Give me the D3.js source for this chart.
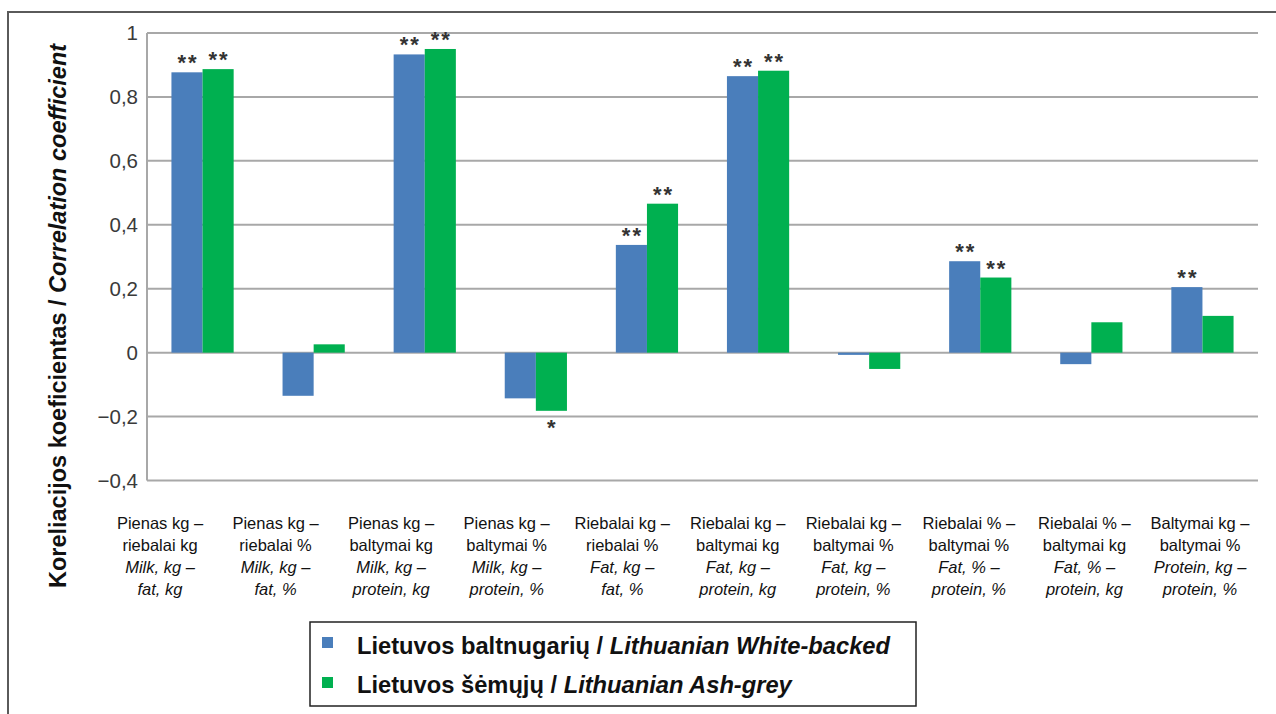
<!DOCTYPE html>
<html><head><meta charset="utf-8">
<script src="https://cdn.jsdelivr.net/npm/d3@7"></script>
<style>
html,body{margin:0;padding:0;background:#fff;}
svg{display:block;font-family:"Liberation Sans",Arial,sans-serif;}
</style></head>
<body>
<svg id="chart" width="1276" height="714"></svg>
<script>
// ---- data ----
const categories = ["c1","c2","c3","c4","c5","c6","c7","c8","c9","c10"];
const labelLT1 = ["Pienas kg –","Pienas kg –","Pienas kg –","Pienas kg –","Riebalai kg –","Riebalai kg –","Riebalai kg –","Riebalai % –","Riebalai % –","Baltymai kg –"];
const labelLT2 = ["riebalai kg","riebalai %","baltymai kg","baltymai %","riebalai %","baltymai kg","baltymai %","baltymai %","baltymai kg","baltymai %"];
const labelEN1 = ["Milk, kg –","Milk, kg –","Milk, kg –","Milk, kg –","Fat, kg –","Fat, kg –","Fat, kg –","Fat, % –","Fat, % –","Protein, kg –"];
const labelEN2 = ["fat, kg","fat, %","protein, kg","protein, %","fat, %","protein, kg","protein, %","protein, %","protein, kg","protein, %"];
const seriesNames = ["Lietuvos baltnugarių / ","Lietuvos šėmųjų / "];
const seriesNamesEN = ["Lithuanian White-backed","Lithuanian Ash-grey"];
const whiteBacked = [0.877, -0.135, 0.933, -0.143, 0.337, 0.865, -0.007, 0.286, -0.036, 0.205];
const ashGrey     = [0.887,  0.026, 0.950, -0.182, 0.466, 0.882, -0.051, 0.235,  0.095, 0.115];
const sigWhite = ["**","","**","","**","**","","**","","**"];
const sigAsh   = ["**","","**","*","**","**","","**","",""];
const yTicks = [-0.4,-0.2,0,0.2,0.4,0.6,0.8,1];
const yTitleLT = "Koreliacijos koeficientas / ";
const yTitleEN = "Correlation coefficient";

// ---- layout ----
const svg = d3.select("#chart");
const colors = ["#4a7ebb","#00b050"];
const plot = {left:147, right:1258, top:33, bottom:480.5};

// outer frame
svg.append("path").attr("d","M8,714 L8,12 L1276,12").attr("fill","none").attr("stroke","#5a5a5a").attr("stroke-width",2);

const x0 = d3.scaleBand().domain(categories).range([plot.left, plot.right]).paddingInner(0.44).paddingOuter(0.22);
const x1 = d3.scaleBand().domain([0,1]).range([0, x0.bandwidth()]).padding(0);
const y = d3.scaleLinear().domain([-0.4, 1]).range([plot.bottom, plot.top]);
const loc = d3.formatLocale({decimal:",", thousands:" ", grouping:[3], currency:["",""], minus:"\u2212"});
const fmt = loc.format(".1~f");

// gridlines
svg.append("g").selectAll("line").data(yTicks).join("line")
  .attr("x1", plot.left).attr("x2", plot.right)
  .attr("y1", d=>y(d)).attr("y2", d=>y(d))
  .attr("stroke","#a8a8a8").attr("stroke-width",2);
// left axis line
svg.append("line").attr("x1",plot.left).attr("x2",plot.left).attr("y1",y(1)).attr("y2",y(-0.4))
  .attr("stroke","#a8a8a8").attr("stroke-width",2);

// y axis via d3.axisLeft
const yAxis = svg.append("g").attr("transform",`translate(${plot.left - 9},0)`)
  .call(d3.axisLeft(y).tickValues(yTicks).tickFormat(fmt).tickSize(0).tickPadding(0));
yAxis.select(".domain").remove();
yAxis.selectAll("text").attr("font-size",20.5).attr("fill","#3a3a3a")
  .attr("font-family",'"Liberation Sans",Arial,sans-serif');

// bars
const series = [whiteBacked, ashGrey];
const sigs = [sigWhite, sigAsh];
const g = svg.append("g");
series.forEach((vals, si) => {
  g.selectAll(null).data(vals).join("rect")
    .attr("x", (d,i)=> x0(categories[i]) + x1(si))
    .attr("width", x1.bandwidth())
    .attr("y", d => y(Math.max(0,d)))
    .attr("height", d => Math.max(1, Math.abs(y(d)-y(0))))
    .attr("fill", colors[si]);
  g.selectAll(null).data(vals).join("text")
    .text((d,i)=> sigs[si][i])
    .attr("x", (d,i)=> x0(categories[i]) + x1(si) + x1.bandwidth()/2 + 1)
    .attr("y", d => d >= 0 ? y(d) - 2 : y(d) + 24)
    .attr("text-anchor","middle")
    .attr("font-size",22).attr("font-weight","bold")
    .attr("letter-spacing",2)
    .attr("fill","#333");
});

// category labels
const xl = d3.scalePoint().domain(categories).range([160, 1200]);
const lab = svg.append("g").attr("font-size",16.5).attr("fill","#111").attr("text-anchor","middle");
const lines = [[labelLT1,"normal"],[labelLT2,"normal"],[labelEN1,"italic"],[labelEN2,"italic"]];
lines.forEach(([arr, style], li) => {
  lab.selectAll(null).data(categories).join("text")
    .attr("x", d=>xl(d)).attr("y", 529 + li*22)
    .attr("font-style", style)
    .text((d,i)=>arr[i]);
});

// y title
const yt = svg.append("text")
  .attr("transform","translate(66,316) rotate(-90)")
  .attr("text-anchor","middle").attr("font-size",23.5).attr("font-weight","bold").attr("fill","#111");
yt.append("tspan").text(yTitleLT);
yt.append("tspan").attr("font-style","italic").text(yTitleEN);

// legend
const lg = svg.append("g");
lg.append("rect").attr("x",310).attr("y",622).attr("width",606).attr("height",84)
  .attr("fill","#fff").attr("stroke","#222").attr("stroke-width",1.5);
seriesNames.forEach((n,i)=>{
  lg.append("rect").attr("x",322).attr("y",637+i*40).attr("width",11).attr("height",11).attr("fill",colors[i]);
  const t = lg.append("text").attr("x",357).attr("y",654+i*39)
    .attr("font-size",23.7).attr("font-weight","bold").attr("fill","#111");
  t.append("tspan").text(n);
  t.append("tspan").attr("font-style","italic").text(seriesNamesEN[i]);
});
</script>
</body></html>
